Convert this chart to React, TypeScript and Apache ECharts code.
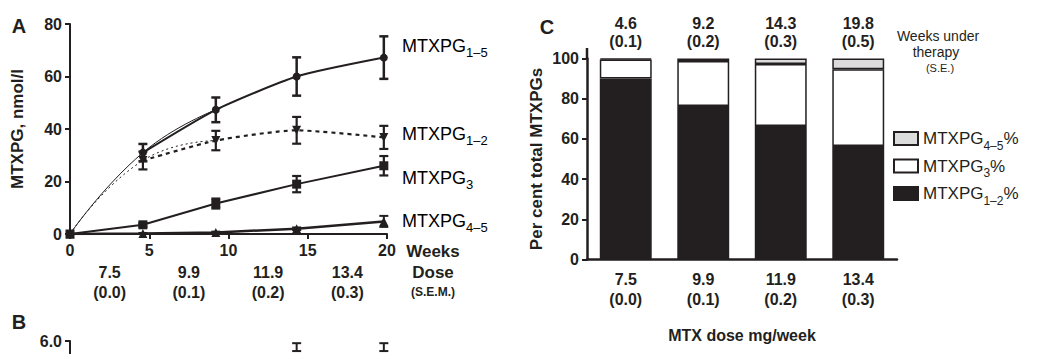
import React, { useEffect, useRef } from 'react';
import * as echarts from 'echarts';

const INK = '#231f20';
const FONT = '"Liberation Sans", Arial, Helvetica, sans-serif';

// Panel A / C shared
const weeks = [4.6, 9.2, 14.3, 19.8];
const weeksSE = [0.1, 0.2, 0.3, 0.5];
const dose = [7.5, 9.9, 11.9, 13.4];
const doseSEM = [0.0, 0.1, 0.2, 0.3];

// Panel A (x = 0 plus weeks)
const pg15 = [0, 31, 47.3, 60, 67.2];
const pg15Err = [0, 3.3, 4.7, 7.3, 8.1];
const pg12 = [0, 28, 35.6, 39.5, 36.8];
const pg12Err = [0, 3.4, 3.7, 5.1, 4.4];
const pg3 = [0, 3.5, 11.6, 19, 26];
const pg3Err = [0, 0.7, 1.9, 3.1, 3.7];
const pg45 = [0, 0.2, 0.6, 2, 4.8];
const pg45Err = [0, 0.2, 0.3, 0.5, 2.1];

// Panel C (per cent of total)
const pct12 = [90.1, 76.4, 66.4, 56.5];
const pct3 = [9.4, 22.4, 30.9, 38.2];
const pct45 = [0.5, 1.2, 2.7, 5.3];

// Panel B (only the top is visible)
const bWeeks = [14.3, 19.8];
const bMean = [5.3, 5.3];
const bErr = [0.45, 0.45];
const bTicks = [6];

const xA = [0, ...weeks];
const pts = (vals: number[], from = 0) => xA.map((x, i) => [x, vals[i]]).slice(from);
const errData = (vals: number[], errs: number[]) =>
  xA.map((x, i) => [x, vals[i] - errs[i], vals[i] + errs[i]]).filter((_, i) => errs[i] > 0);

const errRender = (capW: number, lw: number) => (params: any, api: any) => {
  const x = api.value(0);
  const lo = api.coord([x, api.value(1)]);
  const hi = api.coord([x, api.value(2)]);
  const st = { stroke: INK, lineWidth: lw };
  return {
    type: 'group',
    children: [
      { type: 'line', shape: { x1: lo[0], y1: lo[1], x2: hi[0], y2: hi[1] }, style: st },
      { type: 'line', shape: { x1: hi[0] - capW / 2, y1: hi[1], x2: hi[0] + capW / 2, y2: hi[1] }, style: st },
      { type: 'line', shape: { x1: lo[0] - capW / 2, y1: lo[1], x2: lo[0] + capW / 2, y2: lo[1] }, style: st },
    ],
  };
};

const subRich = (size: number) => ({
  n: { fontFamily: FONT, fontSize: size, color: INK, lineHeight: 26 },
  s: { fontFamily: FONT, fontSize: Math.round(size * 0.7), color: INK, lineHeight: 10, verticalAlign: 'bottom' },
});

const boldLabel = { fontFamily: FONT, fontWeight: 'bold', fontSize: 16, color: INK };

const seriesLabels = [
  { t: '{n|MTXPG}{s|1–5}', y: 46 },
  { t: '{n|MTXPG}{s|1–2}', y: 134 },
  { t: '{n|MTXPG}{s|3}', y: 178 },
  { t: '{n|MTXPG}{s|4–5}', y: 221 },
];

const legendNames: Record<string, string> = {
  'MTXPG4–5%': '{n|MTXPG}{s|4–5}{n|%}',
  'MTXPG3%': '{n|MTXPG}{s|3}{n|%}',
  'MTXPG1–2%': '{n|MTXPG}{s|1–2}{n|%}',
};

const txt = (text: string, x: number, y: number, extra: any = {}) => ({
  type: 'text',
  x,
  y,
  style: {
    text,
    fontFamily: FONT,
    fill: INK,
    align: 'center',
    verticalAlign: 'middle',
    ...extra,
  },
});

const option: any = {
  animation: false,
  backgroundColor: '#fff',
  textStyle: { fontFamily: FONT },
  grid: [
    { left: 70, top: 24, width: 317, height: 210 },
    { left: 587, top: 58.5, width: 310, height: 201 },
    { left: 70, top: 341, width: 317, height: 210 },
  ],
  xAxis: [
    {
      type: 'value', gridIndex: 0, min: 0, max: 20, interval: 5,
      axisLine: { lineStyle: { color: INK, width: 2 } },
      axisTick: { length: 5, lineStyle: { color: INK, width: 2 } },
      axisLabel: { ...boldLabel, margin: 8 },
      splitLine: { show: false },
    },
    {
      type: 'category', gridIndex: 0, position: 'bottom',
      data: dose.map((d, i) => `${d.toFixed(1)}\n(${doseSEM[i].toFixed(1)})`),
      axisLine: { show: false }, axisTick: { show: false },
      axisLabel: { ...boldLabel, margin: 28, lineHeight: 20 },
    },
    {
      type: 'category', gridIndex: 1, position: 'bottom',
      data: dose.map((d, i) => `${d.toFixed(1)}\n(${doseSEM[i].toFixed(1)})`),
      axisLine: { lineStyle: { color: INK, width: 2.5 } },
      axisTick: { alignWithLabel: true, length: 5, lineStyle: { color: INK, width: 2 } },
      axisLabel: { ...boldLabel, margin: 10, lineHeight: 20 },
      name: 'MTX dose mg/week', nameLocation: 'middle', nameGap: 68,
      nameTextStyle: { ...boldLabel },
    },
    {
      type: 'category', gridIndex: 1, position: 'top',
      data: weeks.map((w, i) => `${w.toFixed(1)}\n(${weeksSE[i].toFixed(1)})`),
      axisLine: { show: false }, axisTick: { show: false },
      axisLabel: { ...boldLabel, margin: 8, lineHeight: 18 },
    },
    { type: 'value', gridIndex: 2, min: 0, max: 20, show: false },
  ],
  yAxis: [
    {
      type: 'value', gridIndex: 0, min: 0, max: 80, interval: 20,
      axisLine: { show: true, lineStyle: { color: INK, width: 2 } },
      axisTick: { show: true, length: 5, lineStyle: { color: INK, width: 2 } },
      axisLabel: { ...boldLabel, margin: 8 },
      splitLine: { show: false },
      name: 'MTXPG, nmol/l', nameLocation: 'middle', nameGap: 44,
      nameTextStyle: { ...boldLabel, fontSize: 17 },
    },
    {
      type: 'value', gridIndex: 1, min: 0, max: 100, interval: 20,
      axisLine: { show: true, lineStyle: { color: INK, width: 2.5 } },
      axisTick: { show: true, length: 5, lineStyle: { color: INK, width: 2 } },
      axisLabel: { ...boldLabel, margin: 8 },
      splitLine: { show: false },
      name: 'Per cent total MTXPGs', nameLocation: 'middle', nameGap: 42,
      nameTextStyle: { ...boldLabel, fontSize: 17 },
    },
    {
      type: 'value', gridIndex: 2, min: 0, max: 6, interval: 6,
      axisLine: { show: true, lineStyle: { color: INK, width: 2 } },
      axisTick: { show: true, length: 5, lineStyle: { color: INK, width: 2 }, customValues: bTicks },
      axisLabel: { ...boldLabel, margin: 8, customValues: bTicks, formatter: (v: number) => v.toFixed(1) },
      splitLine: { show: false },
    },
  ],
  legend: {
    orient: 'vertical', left: 893, top: 130, padding: 0, itemWidth: 24, itemHeight: 13, itemGap: 6,
    data: ['MTXPG4–5%', 'MTXPG3%', 'MTXPG1–2%'],
    icon: 'rect',
    itemStyle: { borderColor: INK, borderWidth: 2 },
    formatter: (name: string) => legendNames[name],
    textStyle: { rich: subRich(17) },
  },
  series: [
    // Panel A thin smooth lead-ins
    {
      type: 'line', xAxisIndex: 0, yAxisIndex: 0, data: pts(pg15).slice(0, 3), smooth: 0.5,
      showSymbol: false, lineStyle: { color: INK, width: 1 }, z: 2,
    },
    {
      type: 'line', xAxisIndex: 0, yAxisIndex: 0, data: pts(pg12).slice(0, 3), smooth: 0.5,
      showSymbol: false, lineStyle: { color: INK, width: 1, type: [2, 3] }, z: 2,
    },
    // Panel A main lines
    {
      name: 'MTXPG1–5', type: 'line', xAxisIndex: 0, yAxisIndex: 0, data: pts(pg15, 1), smooth: 0.2,
      symbol: 'circle', symbolSize: 8, itemStyle: { color: INK },
      lineStyle: { color: INK, width: 2 }, z: 3,
    },
    {
      name: 'MTXPG1–2', type: 'line', xAxisIndex: 0, yAxisIndex: 0, data: pts(pg12, 1), smooth: 0.2,
      symbol: 'triangle', symbolRotate: 180, symbolSize: 9, itemStyle: { color: INK },
      lineStyle: { color: INK, width: 2.2, type: [4, 4] }, z: 3,
    },
    {
      name: 'MTXPG3', type: 'line', xAxisIndex: 0, yAxisIndex: 0, data: pts(pg3),
      symbol: 'rect', symbolSize: 9, itemStyle: { color: INK },
      lineStyle: { color: INK, width: 2 }, z: 3,
    },
    {
      name: 'MTXPG4–5', type: 'line', xAxisIndex: 0, yAxisIndex: 0, data: pts(pg45),
      symbol: 'triangle', symbolSize: 9, itemStyle: { color: INK },
      lineStyle: { color: INK, width: 2.5 }, z: 3,
    },
    // Panel A error bars
    { type: 'custom', xAxisIndex: 0, yAxisIndex: 0, data: errData(pg15, pg15Err), encode: { x: 0, y: [1, 2] }, renderItem: errRender(9, 2.5), z: 4 },
    { type: 'custom', xAxisIndex: 0, yAxisIndex: 0, data: errData(pg12, pg12Err), encode: { x: 0, y: [1, 2] }, renderItem: errRender(9, 2.2), z: 4 },
    { type: 'custom', xAxisIndex: 0, yAxisIndex: 0, data: errData(pg3, pg3Err), encode: { x: 0, y: [1, 2] }, renderItem: errRender(9, 2.2), z: 4 },
    { type: 'custom', xAxisIndex: 0, yAxisIndex: 0, data: errData(pg45, pg45Err), encode: { x: 0, y: [1, 2] }, renderItem: errRender(9, 2), z: 4 },
    // Panel C stacked bars
    {
      name: 'MTXPG1–2%', type: 'bar', xAxisIndex: 2, yAxisIndex: 1, stack: 'p', data: pct12, barWidth: '67%',
      itemStyle: { color: INK, borderColor: INK, borderWidth: 1.5 },
    },
    {
      name: 'MTXPG3%', type: 'bar', xAxisIndex: 2, yAxisIndex: 1, stack: 'p', data: pct3, barWidth: '67%',
      itemStyle: { color: '#ffffff', borderColor: INK, borderWidth: 1.5 },
    },
    {
      name: 'MTXPG4–5%', type: 'bar', xAxisIndex: 2, yAxisIndex: 1, stack: 'p', data: pct45, barWidth: '67%',
      itemStyle: { color: '#dcdcdc', borderColor: INK, borderWidth: 1.5 },
    },
    // Panel B visible error-bar tops
    {
      type: 'custom', xAxisIndex: 4, yAxisIndex: 2,
      data: bWeeks.map((w, i) => [w, bMean[i] - bErr[i], bMean[i] + bErr[i]]),
      encode: { x: 0, y: [1, 2] }, renderItem: errRender(9, 2), clip: false,
    },
  ],
  graphic: [
    // axis line of panel C continues a little above 100
    { type: 'line', shape: { x1: 587, y1: 48, x2: 587, y2: 59 }, style: { stroke: INK, lineWidth: 2.5 } },
    txt('A', 19, 26, { fontSize: 20, fontWeight: 'bold' }),
    txt('B', 19, 322, { fontSize: 20, fontWeight: 'bold' }),
    txt('C', 547, 27, { fontSize: 20, fontWeight: 'bold' }),
    txt('Weeks', 433, 251, { fontSize: 17, fontWeight: 'bold' }),
    txt('Dose', 433, 272, { fontSize: 17, fontWeight: 'bold' }),
    txt('(S.E.M.)', 433, 292, { fontSize: 12, fontWeight: 'bold' }),
    txt('Weeks under', 938, 36, { fontSize: 14 }),
    txt('therapy', 936, 52, { fontSize: 14 }),
    txt('(S.E.)', 940, 68, { fontSize: 11 }),
    ...seriesLabels.map((l) => ({
      type: 'text', x: 402, y: l.y,
      style: { text: l.t, rich: subRich(18), align: 'left', verticalAlign: 'middle' },
    })),
  ],
};

export default function App() {
  const ref = useRef<HTMLDivElement>(null);
  useEffect(() => {
    const chart = echarts.init(ref.current!, null, { renderer: 'svg' });
    chart.setOption(option);
    return () => chart.dispose();
  }, []);
  return (
    <div
      ref={ref}
      style={{ position: 'fixed', left: 0, top: 0, width: 1057, height: 354, background: '#fff' }}
    />
  );
}
